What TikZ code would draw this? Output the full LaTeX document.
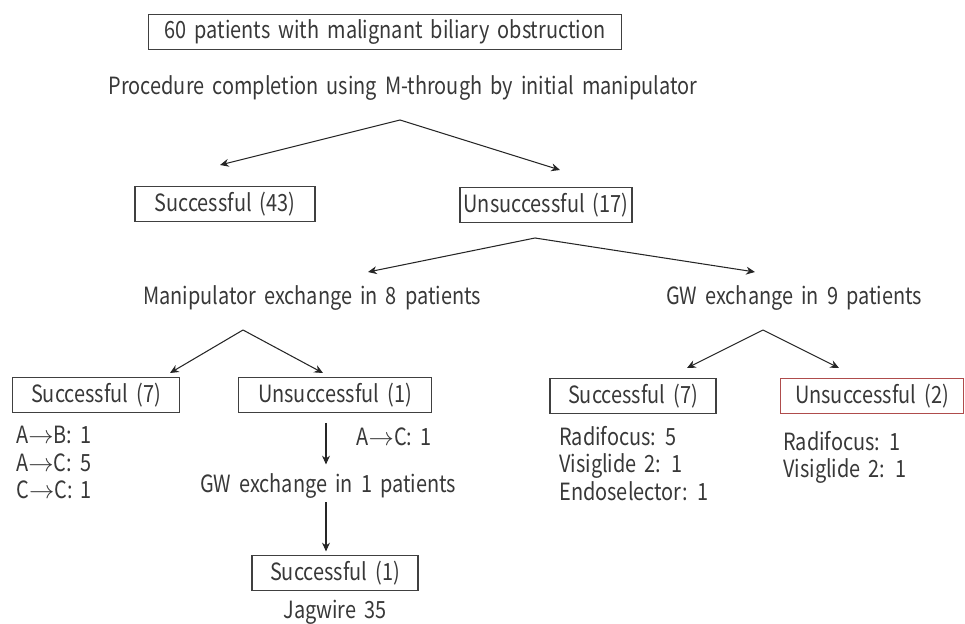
\documentclass[tikz,border=0pt]{standalone}
\usepackage{fontspec}
\setmainfont[FakeStretch=0.84, WordSpace=1.8]{Noto Sans CJK JP}
\usetikzlibrary{arrows.meta,positioning}

\begin{document}
\begin{tikzpicture}[
    x=0.02cm, y=-0.02cm,
    txt/.style={font=\fontsize{13.5}{15.6}\selectfont, text=black!78, inner sep=2pt},
    box/.style={txt, draw=black!75, line width=0.6pt, minimum height=0.7cm, minimum width=#1},
    list/.style={txt, align=left, anchor=north west, inner sep=0pt},
    arr/.style={-{Stealth[length=5pt, width=4.5pt]}, black!85, line width=0.6pt},
]
\useasboundingbox (0,0) rectangle (965,624);

% Cohort and first attempt
\node[box=9.48cm] (cohort) at (385, 32) {60 patients with malignant biliary obstruction};
\node[txt] (proc) at (403, 88) {Procedure completion using M-through by initial manipulator};
\coordinate (fproc) at (400, 120);
\coordinate (fprocL) at (220, 165);
\coordinate (fprocR) at (560, 170);
\draw[arr] (fproc) -- (fprocL);
\draw[arr] (fproc) -- (fprocR);

\node[box=3.6cm] (succ43) at (225, 204) {Successful (43)};
\node[box=3.44cm] (unsucc17) at (546, 205) {Unsuccessful (17)};

% Rescue after failure
\coordinate (fun) at (535, 238);
\coordinate (funL) at (368, 272);
\coordinate (funR) at (755, 272);
\draw[arr] (fun) -- (funL);
\draw[arr] (fun) -- (funR);
\node[txt] (manex) at (312, 298) {Manipulator exchange in 8 patients};
\node[txt] (gwex) at (794, 298) {GW exchange in 9 patients};

% Manipulator exchange branch
\coordinate (fman) at (243, 330);
\coordinate (fmanL) at (170, 373);
\coordinate (fmanR) at (323, 373);
\draw[arr] (fman) -- (fmanL);
\draw[arr] (fman) -- (fmanR);
\node[box=3.34cm] (succ7) at (96, 395) {Successful (7)};
\node[box=3.86cm] (unsucc1) at (335, 395) {Unsuccessful (1)};
\node[list] (swaps) at (16, 426) {A$\to$B: 1\\A$\to$C: 5\\C$\to$C: 1};
\node[txt] (swap1) at (394, 437) {A$\to$C: 1};

\node[txt] (gw1) at (328, 486) {GW exchange in 1 patients};
\draw[arr, shorten <=10pt*0.567, shorten >=3pt] (unsucc1.south -| 326,0) -- (gw1.north -| 326,0);
\node[box=3.32cm] (succ1) at (335, 573) {Successful (1)};
\draw[arr, shorten >=2pt] (gw1.south -| 326,0) -- (succ1.north -| 326,0);
\node[txt] (jag) at (335, 612) {Jagwire 35};

% GW exchange branch
\coordinate (fgw) at (763, 330);
\coordinate (fgwL) at (687, 368);
\coordinate (fgwR) at (839, 368);
\draw[arr] (fgw) -- (fgwL);
\draw[arr] (fgw) -- (fgwR);
\node[box=3.32cm] (succ7b) at (633, 396) {Successful (7)};
\node[box=3.66cm, draw=red!55!black!70] (unsucc2) at (872, 396) {Unsuccessful (2)};
\node[list] (wires7) at (559, 426) {Radifocus: 5\\Visiglide 2: 1\\Endoselector: 1};
\node[list] (wires2) at (783, 431) {Radifocus: 1\\Visiglide 2: 1};
\end{tikzpicture}
\end{document}
